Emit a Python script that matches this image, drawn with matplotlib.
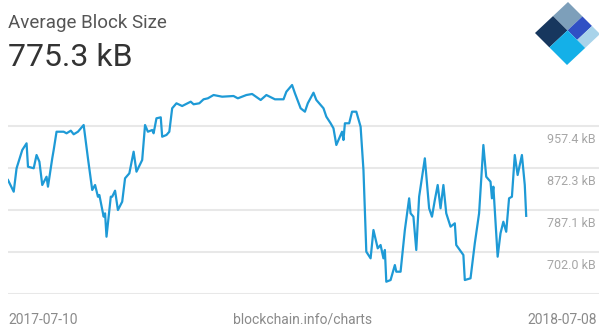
import numpy as np
import pandas as pd
import matplotlib
matplotlib.use('Agg')
import matplotlib.pyplot as plt
from matplotlib.patches import Polygon
from matplotlib.transforms import blended_transform_factory

plt.rcParams['font.family'] = ['Roboto', 'DejaVu Sans']

# Average block size, days since 2017-07-10 and kB
start = pd.Timestamp('2017-07-10')
end = pd.Timestamp('2018-07-08')
days = [0, 4, 6, 10, 13, 14, 18, 20, 22, 24, 27, 28, 31, 32, 34, 39, 41, 44, 46, 49,
        53, 56, 59, 61, 63, 64, 67, 68, 69, 72, 73, 75, 77, 80, 82, 85, 88, 90, 94, 96,
        98, 101, 102, 104, 107, 108, 111, 113, 115, 118, 122, 128, 130, 134, 137, 140, 144, 150, 158, 161,
        167, 171, 177, 181, 187, 193, 195, 199, 201, 205, 208, 210, 214, 216, 221, 223, 226, 228, 230, 233,
        234, 235, 236, 239, 241, 244, 247, 249, 251, 254, 256, 259, 261, 263, 264, 265, 268, 271, 272, 275,
        278, 281, 282, 284, 286, 288, 292, 295, 297, 299, 301, 303, 305, 307, 310, 313, 314, 319, 320, 324,
        327, 330, 333, 335, 338, 339, 340, 343, 345, 347, 349, 351, 353, 355, 357, 360, 362, 363]
sizes = [847.9, 824.2, 871.7, 908.8, 922.3, 874.9, 871.7, 898.6, 885.0, 837.8,
         854.6, 834.4, 891.9, 908.8, 945.8, 945.8, 942.6, 947.9, 940.6, 945.8,
         959.4, 891.9, 827.7, 837.8, 814.1, 817.5, 773.6, 780.4, 733.0, 814.1,
         814.1, 826.3, 787.1, 804.0, 851.4, 861.5, 905.3, 864.8, 888.5, 959.4,
         945.8, 949.3, 942.6, 973.0, 975.0, 935.7, 939.2, 945.8, 993.3, 1003.4,
         997.9, 1006.7, 1001.4, 1003.4, 1011.5, 1013.5, 1020.2, 1016.8, 1018.2, 1013.5,
         1020.2, 1022.3, 1010.1, 1020.2, 1011.5, 1011.5, 1026.9, 1040.5, 1023.7, 993.3,
         986.4, 1003.4, 1024.9, 1010.1, 993.3, 976.3, 962.9, 952.7, 918.9, 939.2,
         945.8, 929.0, 962.9, 962.9, 986.4, 986.4, 956.0, 868.2, 702.6, 689.2,
         746.6, 709.5, 716.2, 689.2, 706.1, 641.8, 645.2, 675.6, 662.1, 662.1,
         746.6, 810.8, 780.4, 773.6, 706.1, 814.1, 891.9, 790.6, 773.6, 807.4,
         837.8, 790.6, 837.8, 780.4, 753.3, 760.2, 716.2, 695.9, 645.2, 648.7,
         719.6, 780.4, 918.9, 854.6, 844.5, 810.8, 834.4, 692.5, 739.9, 763.4,
         743.1, 810.8, 814.1, 898.6, 858.1, 898.6, 837.8, 775.3]
grid_vals = [957.4, 872.3, 787.1, 702.0, 616.9]
tick_labels = ['957.4 kB', '872.3 kB', '787.1 kB', '702.0 kB']

dates = start + pd.to_timedelta(days, unit='D')

W, H = 599, 329
fig = plt.figure(figsize=(W / 100, H / 100), dpi=100)
fig.patch.set_facecolor('white')

# plot area in pixels: x 8..599, y 80..294
ax = fig.add_axes([8 / W, 1 - 294 / H, 591 / W, 214 / H])
ax.set_xlim(start, start + pd.Timedelta(days=414))
step = (957.4 - 616.9) / 4 / 42  # kB per pixel
ax.set_ylim(616.9, 957.4 + 46 * step)

for v in grid_vals:
    ax.axhline(v, color='#e8e8e8', lw=1.5, zorder=1)
ax.plot(dates, sizes, color='#1e9ad6', lw=1.6, zorder=3, solid_joinstyle='round')

tr = blended_transform_factory(ax.transAxes, ax.transData)
for v, lab in zip(grid_vals, tick_labels):
    ax.annotate(lab, xy=(0.995, v), xycoords=tr, xytext=(0, -5), textcoords='offset points',
                ha='right', va='top', fontsize=9, color='#a6a6a6')

for s in ax.spines.values():
    s.set_visible(False)
ax.set_xticks([])
ax.set_yticks([])

# header and footer
fig.text(8 / W, 1 - 28 / H, 'Average Block Size', fontsize=13.5, color='#555555', ha='left', va='baseline')
fig.text(8 / W, 1 - 66 / H, '775.3 kB', fontsize=23, color='#333333', ha='left', va='baseline')
fig.text(8 / W, 1 - 324 / H, start.strftime('%Y-%m-%d'), fontsize=10, color='#8a8a8a', ha='left', va='baseline')
fig.text(303 / W, 1 - 324 / H, 'blockchain.info/charts', fontsize=10, color='#8a8a8a', ha='center', va='baseline')
fig.text(597 / W, 1 - 324 / H, end.strftime('%Y-%m-%d'), fontsize=10, color='#8a8a8a', ha='right', va='baseline')

# logo: diamond split into coloured squares
lg = fig.add_axes([0, 0, 1, 1], zorder=5)
lg.set_xlim(0, W)
lg.set_ylim(H, 0)
lg.axis('off')
L = np.array([535.0, 33.0])
T = np.array([568.0, 2.0])
B = np.array([567.0, 65.0])


def piece(a0, a1, b0, b1, color):
    pts = [L + a * (T - L) + b * (B - L) for a, b in [(a0, b0), (a1, b0), (a1, b1), (a0, b1)]]
    lg.add_patch(Polygon(pts, closed=True, facecolor=color, edgecolor='none'))


piece(0, 0.55, 0, 0.45, '#17375e')
piece(0.55, 1, 0, 0.45, '#7d9fba')
piece(0.55, 1, 0.45, 0.75, '#3050c4')
piece(0.55, 1, 0.75, 1, '#a8d3ea')
piece(0, 0.55, 0.45, 1, '#14b0e8')

fig.savefig('out.png', dpi=100, facecolor='white')
